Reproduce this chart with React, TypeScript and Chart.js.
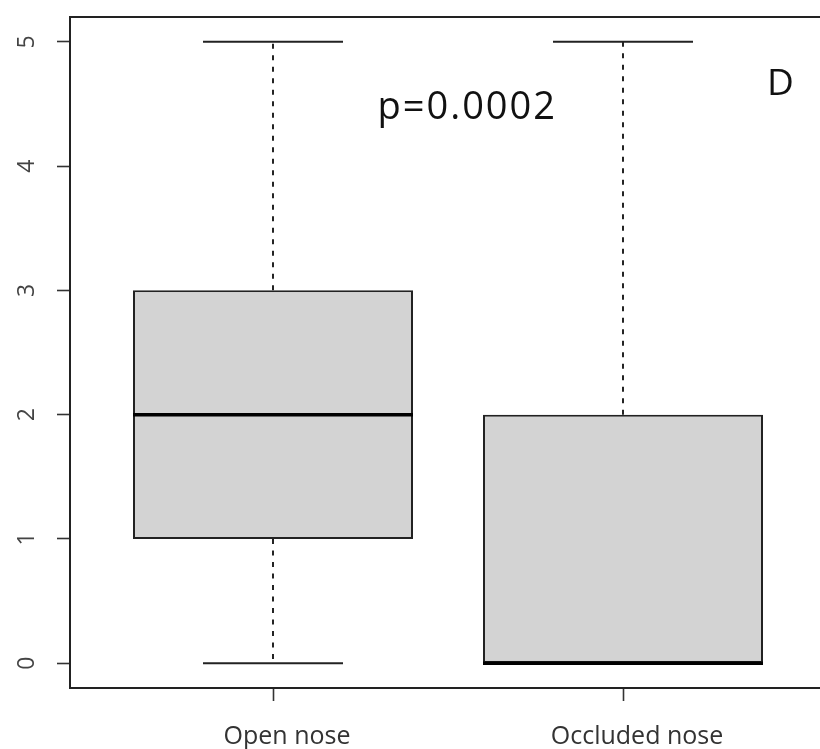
import React, { useEffect, useRef } from "react";
import { Chart, registerables } from "chart.js";

Chart.register(...registerables);

const categories = ["Open nose", "Occluded nose"];
const mins = [0, 0];
const q1s = [1, 0];
const medians = [2, 0];
const q3s = [3, 2];
const maxs = [5, 5];
const yTickValues = [0, 1, 2, 3, 4, 5];
const pValueText = "p=0.0002";
const panelLetter = "D";

const FONT = "'Open Sans', 'DejaVu Sans', sans-serif";

const boxplotPlugin = {
  id: "boxplotExtras",
  afterDatasetsDraw(chart: any) {
    const { ctx, scales } = chart;
    const xs = scales.x;
    const ys = scales.y;
    const meta = chart.getDatasetMeta(0);
    ctx.save();
    categories.forEach((_, i) => {
      const bar = meta.data[i];
      const xc = xs.getPixelForValue(i + 1);
      const half = bar.width / 2;
      const capHalf = half / 2;
      ctx.strokeStyle = "#1a1a1a";
      ctx.lineWidth = 1.9;
      ctx.setLineDash([5, 6.5]);
      if (maxs[i] > q3s[i]) {
        ctx.beginPath();
        ctx.moveTo(xc, ys.getPixelForValue(q3s[i]));
        ctx.lineTo(xc, ys.getPixelForValue(maxs[i]));
        ctx.stroke();
      }
      if (mins[i] < q1s[i]) {
        ctx.beginPath();
        ctx.moveTo(xc, ys.getPixelForValue(q1s[i]));
        ctx.lineTo(xc, ys.getPixelForValue(mins[i]));
        ctx.stroke();
      }
      ctx.setLineDash([]);
      ctx.strokeStyle = "#222";
      ctx.lineWidth = 2;
      [mins[i], maxs[i]].forEach((v) => {
        const y = ys.getPixelForValue(v);
        ctx.beginPath();
        ctx.moveTo(xc - capHalf, y);
        ctx.lineTo(xc + capHalf, y);
        ctx.stroke();
      });
      ctx.strokeStyle = "#000";
      ctx.lineWidth = 3.5;
      const ym = ys.getPixelForValue(medians[i]);
      ctx.beginPath();
      ctx.moveTo(xc - half, ym);
      ctx.lineTo(xc + half, ym);
      ctx.stroke();
    });
    ctx.restore();
  },
  afterDraw(chart: any) {
    const { ctx, chartArea, scales } = chart;
    ctx.save();
    ctx.strokeStyle = "#222";
    ctx.lineWidth = 2;
    ctx.strokeRect(chartArea.left, chartArea.top, chartArea.right - chartArea.left, chartArea.bottom - chartArea.top);
    ctx.fillStyle = "#111";
    ctx.textAlign = "center";
    ctx.textBaseline = "middle";
    ctx.font = `38px ${FONT}`;
    try {
      (ctx as any).letterSpacing = "2px";
    } catch (e) {}
    ctx.fillText(pValueText, scales.x.getPixelForValue(1.555), scales.y.getPixelForValue(4.47));
    try {
      (ctx as any).letterSpacing = "0px";
    } catch (e) {}
    ctx.font = `37px ${FONT}`;
    ctx.fillText(panelLetter, scales.x.getPixelForValue(2.45), scales.y.getPixelForValue(4.66));
    ctx.restore();
  },
};

export default function App() {
  const ref = useRef<HTMLCanvasElement | null>(null);
  useEffect(() => {
    if (!ref.current) return;
    const chart = new Chart(ref.current, {
      type: "bar",
      data: {
        datasets: [
          {
            data: categories.map((c, i) => ({ x: i + 1, y: [q1s[i], q3s[i]] })) as any,
            backgroundColor: "#d3d3d3",
            borderColor: "#222",
            borderWidth: 2,
            borderSkipped: false,
            barPercentage: 0.8,
            categoryPercentage: 1,
          },
        ],
      },
      options: {
        animation: false,
        responsive: false,
        devicePixelRatio: 1,
        layout: { padding: { top: 17, right: 6, left: 0, bottom: 0 } },
        plugins: { legend: { display: false }, tooltip: { enabled: false } },
        scales: {
          x: {
            type: "linear",
            min: 0.42,
            max: 2.58,
            offset: false,
            afterBuildTicks: (scale: any) => {
              scale.ticks = categories.map((_, i) => ({ value: i + 1 }));
            },
            afterFit: (scale: any) => {
              scale.height = 61;
              scale.paddingLeft = 0;
              scale.paddingRight = 0;
            },
            grid: {
              offset: false,
              drawOnChartArea: false,
              drawTicks: true,
              tickLength: 13,
              tickColor: "#333",
              tickWidth: 1.6,
            },
            border: { display: false },
            ticks: {
              autoSkip: false,
              maxRotation: 0,
              minRotation: 0,
              padding: 21,
              labelOffset: 14,
              color: "#333",
              font: { family: FONT, size: 25 },
              callback: (v: any) => categories[Math.round(Number(v)) - 1] ?? "",
            },
          },
          y: {
            type: "linear",
            min: -0.2,
            max: 5.2,
            afterBuildTicks: (scale: any) => {
              scale.ticks = yTickValues.map((v) => ({ value: v }));
            },
            afterFit: (scale: any) => {
              scale.width = 70;
              scale.paddingTop = 0;
              scale.paddingBottom = 0;
            },
            grid: {
              drawOnChartArea: false,
              drawTicks: true,
              tickLength: 13,
              tickColor: "#333",
              tickWidth: 1.6,
            },
            border: { display: false },
            ticks: {
              minRotation: 90,
              maxRotation: 90,
              crossAlign: "center",
              padding: 23,
              color: "#444",
              font: { family: FONT, size: 23 },
              callback: (v: any) => String(v),
            },
          },
        },
      },
      plugins: [boxplotPlugin],
    } as any);
    return () => chart.destroy();
  }, []);
  return (
    <div style={{ position: "fixed", left: 0, top: 0, width: 820, height: 749, overflow: "hidden", background: "#fff" }}>
      <canvas ref={ref} width={832} height={749} style={{ display: "block", width: 832, height: 749 }} />
    </div>
  );
}
